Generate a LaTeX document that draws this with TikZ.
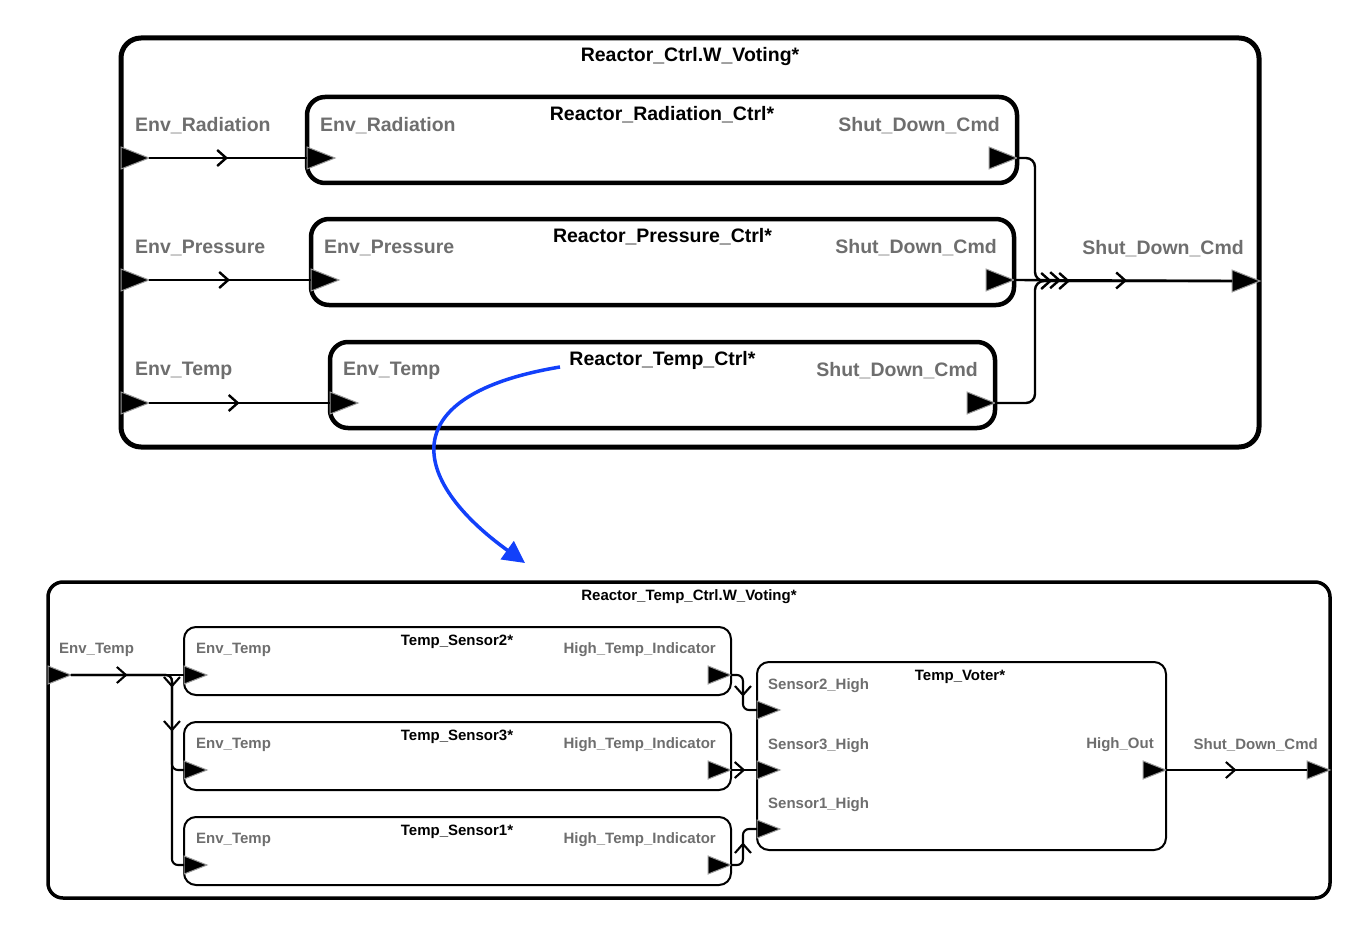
\documentclass[tikz,border=0pt]{standalone}
\usepackage{fontspec}
\setmainfont{Liberation Sans}
\usetikzlibrary{arrows.meta,decorations.markings}

\definecolor{lblgray}{RGB}{110,110,110}
\definecolor{linkblue}{RGB}{18,64,250}

% port: name, x, y, size; (name) is the base, (name-t) the tip
\newcommand{\port}[4]{%
  \coordinate (#1) at (#2,#3);
  \coordinate (#1-t) at (#2+28*#4,#3);
  \filldraw[fill=black,draw=gray!80,line width=1pt] (#2,#3-11*#4) -- (#1-t) -- (#2,#3+11*#4) -- cycle;
}

\begin{document}
\begin{tikzpicture}[x=1pt,y=-1pt,
  big/.style={font=\fontsize{19.5}{22}\selectfont\bfseries,inner sep=0pt},
  small/.style={font=\fontsize{15}{17}\selectfont\bfseries,inner sep=0pt},
  lbl/.style={text=lblgray},
  wire/.style={line width=2.4pt,rounded corners=9pt},
  bwire/.style={line width=2.1pt,rounded corners=6pt},
  chev/.style={postaction={decorate,decoration={markings,
      mark=at position #1 with {\arrow{Straight Barb[length=9pt,width=16pt]}}}}},
  chev/.default=0.5]

\useasboundingbox (0,0) rectangle (1362,936);

% upper model
\draw[line width=5pt,rounded corners=20pt] (121,38) rectangle (1259,447);
\node[big] (main-title) at (690,57) {Reactor\_Ctrl.W\_Voting*};

\foreach \nm/\xl/\xr/\yt/\txt in {rad/307/1017/97/Radiation, prs/311/1014/219/Pressure, tmp/330/995/342/Temp} {
    \draw[line width=4.5pt,rounded corners=18pt] (\xl,\yt) rectangle (\xr,\yt+86);
    \node[big] (\nm-title) at ({(\xl+\xr)/2},\yt+18) {Reactor\_\txt\_Ctrl*};
    \node[big,lbl,anchor=west] (\nm-inlbl) at (\xl+13,\yt+29) {Env\_\txt};
    \node[big,lbl,anchor=east] (\nm-outlbl) at (\xr-17,\yt+29) {Shut\_Down\_Cmd};
    \node[big,lbl,anchor=west] (e\nm-lbl) at (135,\yt+29) {Env\_\txt};
    \port{\nm-in}{\xl}{\yt+61}{1}
    \port{\nm-out}{\xr-28}{\yt+61}{1}
    \port{e\nm}{121}{\yt+61}{1}
    \draw[wire,chev] (e\nm-t) -- (\nm-in);
}

\port{sdc}{1232}{281}{1}
\node[big,lbl,anchor=east] (sdc-lbl) at (1244,249) {Shut\_Down\_Cmd};

\draw[wire,chev=-162pt] (rad-out-t) -- ++(18,0) |- (sdc);
\draw[wire,chev=-171pt,chev=-105pt] (prs-out-t) -- (sdc);
\draw[wire,chev=-180pt] (tmp-out-t) -- ++(40,0) |- (sdc);

% lower model
\draw[line width=3.5pt,rounded corners=15pt] (48,582) rectangle (1330,898);
\node[small] (sub-title) at (689,597) {Reactor\_Temp\_Ctrl.W\_Voting*};

\foreach \nm/\yt/\k in {sa/627/2, sb/722/3, sc/817/1} {
    \draw[line width=2pt,rounded corners=12pt] (184,\yt) rectangle (731,\yt+68);
    \node[small] (\nm-title) at (457,\yt+15) {Temp\_Sensor\k*};
    \node[small,lbl,anchor=west] (\nm-inlbl) at (196,\yt+23) {Env\_Temp};
    \node[small,lbl,anchor=east] (\nm-outlbl) at (716,\yt+23) {High\_Temp\_Indicator};
    \port{\nm-in}{184}{\yt+48}{0.82}
    \port{\nm-out}{708}{\yt+48}{0.82}
}

\draw[line width=2pt,rounded corners=12pt] (757,662) rectangle (1166,850);
\node[small] (v-title) at (960,677) {Temp\_Voter*};
\foreach \nm/\y/\k in {v2/710/2, v3/770/3, v1/829/1} {
    \node[small,lbl,anchor=west] (\nm-lbl) at (768,\y-24) {Sensor\k\_High};
    \port{\nm}{757}{\y}{0.82}
}
\node[small,lbl,anchor=east] (vo-lbl) at (1154,745) {High\_Out};
\port{vo}{1143}{770}{0.82}

\port{et}{48}{675}{0.82}
\node[small,lbl,anchor=west] (et-lbl) at (59,650) {Env\_Temp};
\port{sdb}{1307}{770}{0.82}
\node[small,lbl,anchor=east] (sdb-lbl) at (1318,745) {Shut\_Down\_Cmd};

\draw[bwire,chev] (et-t) -- (sa-in);
\draw[bwire,chev=111pt] (et-t) -- ++(101,0) |- (sb-in);
\draw[bwire,chev=155pt] (et-t) -- ++(101,0) |- (sc-in);

\draw[bwire,chev=31pt] (sa-out-t) -- ++(12,0) |- (v2);
\draw[bwire,chev=0.55] (sb-out-t) -- (v3);
\draw[bwire,chev=32pt] (sc-out-t) -- ++(12,0) |- (v1);
\draw[bwire,chev] (vo-t) -- (sdb);

% zoom link
\coordinate (zs) at (560,367);
\coordinate (ze) at (525,563);
\draw[linkblue,line width=3.5pt,-{Triangle[length=22pt,width=22pt]}] (zs) .. controls (392,395) and (410,480) .. (ze);

\end{tikzpicture}
\end{document}
